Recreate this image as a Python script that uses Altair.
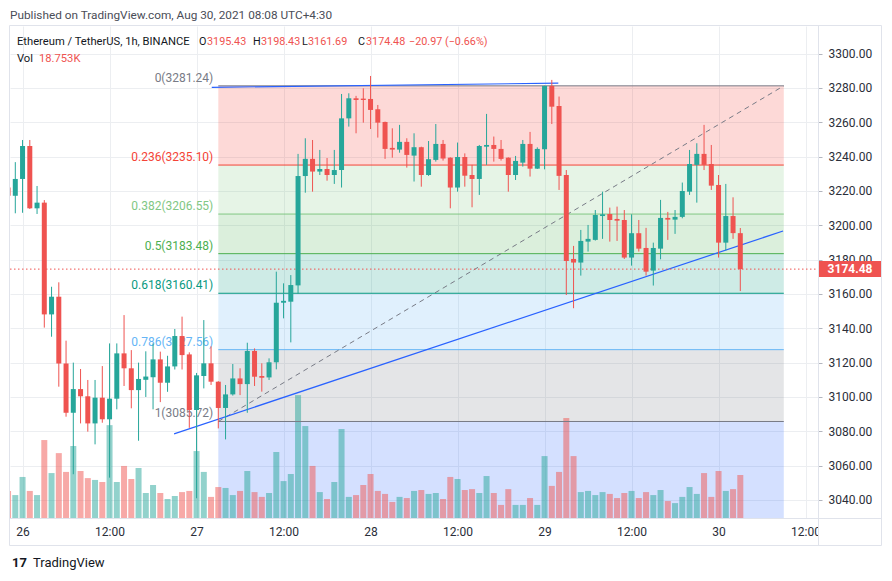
import altair as alt
import pandas as pd

FONT = "Roboto"
GREEN = "#26a69a"
RED = "#ef5350"
BLUE = "#2962ff"
GRID = "#eceef1"
FRAME = "#e0e3eb"
TXT = "#2a2e39"

# ---------------- data (hourly candles, ETH/USDT, from Aug 25 22:00 UTC) ----------------
opens = [
    3222.0,
    3217.2, 3227.0, 3246.2, 3209.9, 3213.2, 3148.1, 3158.4, 3119.5, 3090.8, 3104.6,
    3100.4, 3084.6, 3099.6, 3087.0, 3099.0, 3125.4, 3116.7, 3104.0, 3110.0, 3111.5,
    3121.9, 3108.3, 3117.8, 3135.5, 3124.8, 3092.4, 3112.2, 3119.6, 3108.9, 3093.6,
    3101.5, 3110.8, 3107.5, 3126.8, 3112.2, 3111.4, 3120.2, 3154.9, 3155.5, 3165.0,
    3228.7, 3238.7, 3231.3, 3232.8, 3229.3, 3232.2, 3262.3, 3274.0, 3273.8, 3273.6,
    3267.6, 3260.2, 3245.1, 3244.1, 3248.6, 3240.6, 3245.5, 3229.3, 3238.1, 3247.4,
    3239.4, 3222.0, 3239.8, 3229.3, 3227.0, 3245.8, 3246.8, 3244.5, 3239.4, 3229.3,
    3236.5, 3247.4, 3233.0, 3244.3, 3281.2, 3269.5, 3229.3, 3180.4, 3178.3, 3190.5,
    3191.5, 3205.4, 3206.6, 3203.7, 3203.1, 3181.2, 3195.4, 3186.8, 3173.6, 3186.4,
    3204.3, 3203.3, 3204.9, 3219.6, 3235.2, 3241.6, 3235.7, 3223.5, 3189.9, 3205.4,
    3195.43,
]
highs = [
    3228.0,
    3236.8, 3249.7, 3249.7, 3222.9, 3214.7, 3164.2, 3166.8, 3132.8, 3120.0, 3116.3,
    3109.9, 3109.9, 3118.0, 3131.2, 3131.2, 3147.7, 3127.3, 3120.0, 3126.6, 3131.2,
    3126.4, 3124.0, 3139.6, 3146.8, 3126.0, 3114.0, 3144.8, 3129.5, 3109.2, 3107.0,
    3119.2, 3116.7, 3131.6, 3128.3, 3119.6, 3122.5, 3173.0, 3166.2, 3171.0, 3241.6,
    3250.7, 3249.7, 3243.9, 3239.2, 3243.9, 3276.5, 3276.9, 3275.4, 3279.8, 3287.0,
    3270.1, 3260.4, 3256.5, 3258.5, 3250.7, 3253.6, 3245.8, 3249.1, 3259.0, 3249.7,
    3239.6, 3248.2, 3241.9, 3235.2, 3246.8, 3264.9, 3251.7, 3249.7, 3239.6, 3240.4,
    3249.7, 3254.4, 3245.4, 3281.3, 3284.7, 3275.0, 3232.2, 3188.0, 3197.3, 3200.2,
    3208.9, 3219.6, 3210.3, 3210.9, 3208.9, 3206.4, 3203.1, 3198.5, 3189.9, 3214.8,
    3207.8, 3208.9, 3224.9, 3243.9, 3247.8, 3258.5, 3246.8, 3229.3, 3224.1, 3216.3,
    3198.43,
]
lows = [
    3212.0,
    3207.0, 3207.3, 3209.5, 3206.6, 3140.4, 3135.1, 3106.0, 3088.5, 3055.0, 3084.6,
    3079.8, 3072.4, 3085.0, 3053.0, 3092.8, 3106.4, 3093.4, 3074.5, 3100.0, 3092.8,
    3097.0, 3103.0, 3116.0, 3116.0, 3082.0, 3041.0, 3105.0, 3107.0, 3081.7, 3075.3,
    3100.8, 3101.1, 3090.8, 3106.4, 3103.1, 3109.9, 3116.1, 3145.8, 3131.8, 3160.0,
    3219.0, 3219.6, 3229.3, 3226.0, 3224.1, 3222.0, 3257.5, 3253.6, 3259.8, 3256.1,
    3251.1, 3238.7, 3239.4, 3242.3, 3233.6, 3225.5, 3222.5, 3228.8, 3237.1, 3237.7,
    3209.9, 3219.6, 3222.5, 3210.5, 3217.7, 3235.2, 3237.1, 3237.7, 3219.6, 3226.4,
    3234.2, 3228.4, 3232.8, 3232.6, 3259.0, 3220.6, 3159.4, 3151.7, 3170.7, 3184.7,
    3191.1, 3192.1, 3190.5, 3190.9, 3180.4, 3176.5, 3184.7, 3170.7, 3164.9, 3180.2,
    3191.5, 3195.0, 3204.1, 3217.7, 3213.2, 3232.2, 3220.6, 3181.2, 3185.3, 3192.1,
    3161.69,
]
closes = [
    3217.2,
    3227.0, 3246.2, 3209.9, 3213.2, 3148.1, 3158.4, 3119.5, 3090.8, 3104.6, 3100.4,
    3084.6, 3099.6, 3087.0, 3099.0, 3125.4, 3116.7, 3104.0, 3110.5, 3111.9, 3121.9,
    3108.3, 3117.8, 3135.5, 3124.4, 3092.4, 3112.6, 3119.6, 3108.9, 3093.6, 3101.5,
    3110.8, 3107.5, 3126.8, 3111.8, 3111.2, 3120.2, 3154.9, 3156.0, 3165.2, 3228.7,
    3238.7, 3231.3, 3232.8, 3229.3, 3232.2, 3262.3, 3274.0, 3273.0, 3273.0, 3267.2,
    3259.8, 3244.5, 3244.1, 3248.6, 3241.0, 3245.5, 3229.3, 3238.5, 3247.4, 3238.9,
    3222.0, 3239.8, 3228.9, 3227.0, 3246.2, 3246.8, 3244.5, 3238.7, 3229.3, 3237.5,
    3247.4, 3233.0, 3244.5, 3281.2, 3269.1, 3228.8, 3179.2, 3178.3, 3190.9, 3192.1,
    3206.0, 3206.4, 3203.1, 3202.7, 3181.2, 3195.4, 3186.4, 3173.0, 3186.8, 3204.3,
    3203.3, 3204.9, 3220.0, 3235.7, 3241.6, 3235.2, 3223.1, 3189.9, 3205.4, 3195.45,
    3174.48,
]
volumes = [  # thousands of ETH
    11.8,
    10.0, 17.9, 11.8, 10.0, 34.0, 19.6, 28.3, 20.1, 31.4, 20.5,
    17.4, 16.6, 15.7, 40.5, 15.7, 22.7, 17.0, 21.8, 10.9, 14.4,
    10.9, 8.3, 9.6, 11.3, 11.8, 29.2, 20.1, 9.2, 13.5, 13.1,
    10.0, 11.8, 20.5, 11.3, 9.2, 10.9, 28.8, 16.1, 19.2, 53.6,
    40.1, 22.7, 11.3, 8.3, 15.7, 38.8, 9.2, 10.0, 14.4, 19.2,
    11.8, 10.5, 7.0, 9.2, 8.7, 11.8, 12.2, 10.5, 10.9, 8.3,
    17.9, 17.0, 12.2, 12.6, 10.9, 18.3, 10.9, 5.7, 12.6, 5.7,
    5.7, 8.7, 5.7, 27.0, 14.0, 20.1, 43.6, 27.0, 11.3, 11.8,
    10.0, 11.3, 10.5, 8.7, 10.9, 11.8, 8.7, 11.3, 10.0, 12.2,
    7.4, 6.5, 9.2, 13.5, 10.5, 19.6, 9.2, 20.5, 11.8, 12.6,
    18.753,
]
first_hour = -2  # hours relative to Aug 26 00:00 UTC

# Fibonacci retracement drawing
fib_ratios = [0, 0.236, 0.382, 0.5, 0.618, 0.786, 1]
fib_prices = [3281.24, 3235.10, 3206.55, 3183.48, 3160.41, 3127.56, 3085.72]
fib_colors = ["#787b86", "#f44336", "#81c784", "#4caf50", "#089981", "#64b5f6", "#787b86"]
fib_ext_price = 2964.88  # 1.618 level
fib_ext_color = BLUE
fib_start_hour = 27
fib_end_hour = 105

# user trend lines
trend_hours = [20.9, 104.9]
trend_prices = [3078.5, 3196.7]
top_line_hours = [26.1, 73.9]
top_line_prices = [3280.4, 3282.8]

# ---------------- tables ----------------
n = len(opens)
df = pd.DataFrame({
    "h": list(range(first_hour, first_hour + n)),
    "open": opens, "high": highs, "low": lows, "close": closes, "vol": volumes,
})
df["dir"] = ["up" if c >= o else "down" for o, c in zip(opens, closes)]

fill_tops = fib_prices
fill_bottoms = fib_prices[1:] + [fib_ext_price]
fill_cols = fib_colors[1:] + [fib_ext_color]
fills = pd.DataFrame({"x0": fib_start_hour, "x1": fib_end_hour,
                      "top": fill_tops, "bottom": fill_bottoms, "col": fill_cols})
levels = pd.DataFrame({
    "x0": fib_start_hour, "x1": fib_end_hour, "price": fib_prices, "col": fib_colors,
    "label": [f"{r:g}({p:.2f})" for r, p in zip(fib_ratios, fib_prices)],
})
fib_diag = pd.DataFrame({"h": [fib_start_hour, fib_end_hour],
                         "price": [fib_prices[-1], fib_prices[0]]})
trend = pd.DataFrame({"h": trend_hours, "price": trend_prices})
top_line = pd.DataFrame({"h": top_line_hours, "price": top_line_prices})
last = pd.DataFrame({"price": [closes[-1]]})

chg = closes[-1] - closes[-2]
pct = chg / closes[-2] * 100
def sgn(v):
    return ("\u2212" if v < 0 else "+") + f"{abs(v):.2f}"

# ---------------- scales & axes ----------------
xs = alt.Scale(domain=[-1.731, 109.717], nice=False, zero=False, padding=0)
ys = alt.Scale(domain=[3029.5, 3316.1], nice=False, zero=False)
vs = alt.Scale(domain=[0, 214.6], nice=False, zero=True)

x_axis = alt.Axis(
    values=list(range(0, 109, 12)),
    labelExpr="datum.value % 24 == 0 ? '' + (26 + datum.value / 24) : '12:00'",
    grid=True, gridColor=GRID, domain=False, ticks=False, labelPadding=8,
    labelFont=FONT, labelFontSize=12, labelColor=TXT, title=None, labelFlush=False,
)
price_axis = alt.Axis(
    orient="right", values=list(range(3040, 3301, 20)), format=".2f",
    grid=True, gridColor=GRID, domain=False, ticks=True, tickSize=4,
    tickColor="#b2b5be", labelPadding=6, labelFont=FONT, labelFontSize=12,
    labelColor=TXT, title=None,
)

def X(f):
    return alt.X(f"{f}:Q", scale=xs, axis=x_axis)

def Y(f, axis=None):
    return alt.Y(f"{f}:Q", scale=ys, axis=axis)

dir_color = alt.Color("dir:N", scale=alt.Scale(domain=["up", "down"], range=[GREEN, RED]), legend=None)

# ---------------- layers ----------------
fill_layer = alt.Chart(fills).mark_rect(opacity=0.2, clip=True).encode(
    x=X("x0"), x2="x1", y=Y("top", price_axis), y2="bottom",
    color=alt.Color("col:N", scale=None))

vol_layer = alt.Chart(df).mark_bar(size=6, opacity=0.5, clip=True).encode(
    x=X("h"), y=alt.Y("vol:Q", scale=vs, axis=None), color=dir_color)

level_layer = alt.Chart(levels).mark_rule(strokeWidth=1).encode(
    x=X("x0"), x2="x1", y=Y("price"), color=alt.Color("col:N", scale=None))

label_layer = alt.Chart(levels).mark_text(
    align="right", baseline="bottom", dx=-5, dy=-1, fontSize=12, font=FONT).encode(
    x=X("x0"), y=Y("price"), text="label:N", color=alt.Color("col:N", scale=None))

diag_layer = alt.Chart(fib_diag).mark_line(color="#787b86", strokeWidth=1, strokeDash=[5, 4]).encode(
    x=X("h"), y=Y("price"))

trend_layer = alt.Chart(trend).mark_line(color=BLUE, strokeWidth=1.2, clip=True).encode(
    x=X("h"), y=Y("price"))
top_layer = alt.Chart(top_line).mark_line(color=BLUE, strokeWidth=1.2, clip=True).encode(
    x=X("h"), y=Y("price"))

last_line = alt.Chart(last).mark_rule(color=RED, strokeWidth=1, strokeDash=[1.5, 2.5]).encode(
    x=alt.value(0), x2=alt.value(808), y=Y("price"))

wick_layer = alt.Chart(df).mark_rule(strokeWidth=1, clip=True).encode(
    x=X("h"), y=Y("low"), y2="high", color=dir_color)
body_layer = alt.Chart(df).mark_bar(size=5, clip=True).encode(
    x=X("h"), y=Y("open"), y2="close", color=dir_color)

dummy = pd.DataFrame({"a": [0]})
cover = alt.Chart(dummy).mark_rect(color="white").encode(
    x=alt.value(808.5), x2=alt.value(873), y=alt.value(493), y2=alt.value(518))
frame = alt.Chart(dummy).mark_rect(fill="white", fillOpacity=0, stroke=FRAME, strokeWidth=1).encode(
    x=alt.value(-0.5), x2=alt.value(871.5), y=alt.value(-0.5), y2=alt.value(519.5))
sep_v = alt.Chart(dummy).mark_rule(color=FRAME, strokeWidth=1).encode(
    x=alt.value(808.5), y=alt.value(-0.5), y2=alt.value(519.5))
sep_h = alt.Chart(dummy).mark_rule(color=FRAME, strokeWidth=1).encode(
    x=alt.value(-0.5), x2=alt.value(871.5), y=alt.value(492.5))

price_box = alt.Chart(last).mark_rule(color=RED, strokeWidth=16, strokeCap="butt").encode(
    x=alt.value(809), x2=alt.value(871), y=Y("price"))
price_txt = alt.Chart(last).mark_text(
    color="white", fontWeight="bold", fontSize=12, font=FONT, align="center", baseline="middle").encode(
    x=alt.value(840), y=Y("price"), text=alt.Text("price:Q", format=".2f"))

# header / footer annotations: (text, x, y, color, size, weight)
DARK = "#131722"
HS = 10.8
annotations = [
    ("Published on TradingView.com, Aug 30, 2021 08:08 UTC+4:30", 0, -11, "#4a4d57", 11.8, "normal"),
    ("Ethereum / TetherUS, 1h, BINANCE", 7, 16, DARK, 11.2, "normal"),
    ("O", 189, 16, DARK, HS, "normal"), (f"{opens[-1]:.2f}", 197, 16, RED, HS, "normal"),
    ("H", 243, 16, DARK, HS, "normal"), (f"{highs[-1]:.2f}", 251, 16, RED, HS, "normal"),
    ("L", 292, 16, DARK, HS, "normal"), (f"{lows[-1]:.2f}", 298, 16, RED, HS, "normal"),
    ("C", 348, 16, DARK, HS, "normal"), (f"{closes[-1]:.2f}", 356, 16, RED, HS, "normal"),
    (f"{sgn(chg)} ({sgn(pct)}%)", 399, 16, RED, HS, "normal"),
    ("Vol", 7, 33, DARK, 11.2, "normal"), (f"{volumes[-1]:.3f}K", 29, 33, RED, 11.2, "normal"),
    ("17", 2, 537, DARK, 13, "bold"),
    ("TradingView", 23, 537, DARK, 13, "normal"),
]
ann_layers = [
    alt.Chart(dummy).mark_text(text=t, color=c, fontSize=s, fontWeight=w, font=FONT,
                               align="left", baseline="middle").encode(x=alt.value(px), y=alt.value(py))
    for t, px, py, c, s, w in annotations
]

chart = alt.layer(
    fill_layer, vol_layer, level_layer, label_layer, diag_layer, trend_layer, top_layer,
    last_line, wick_layer, body_layer, cover, frame, sep_v, sep_h, price_box, price_txt,
    *ann_layers,
).resolve_scale(y="independent").properties(
    width=808, height=492,
    autosize=alt.AutoSizeParams(type="none"),
    padding={"left": 2, "top": 18, "right": 66, "bottom": 55},
    background="white",
).configure_view(stroke=None)

chart.save("out.html", embed_options={"renderer": "svg", "actions": False})
